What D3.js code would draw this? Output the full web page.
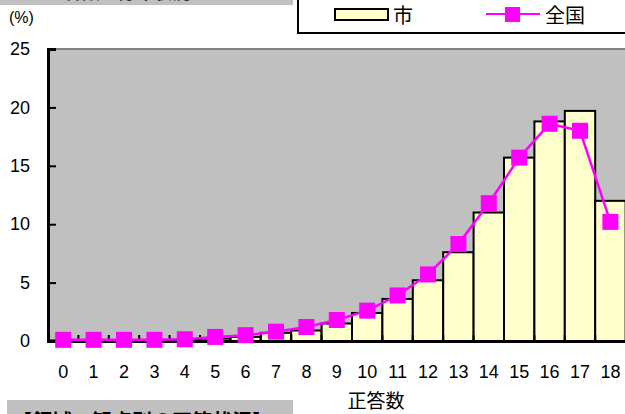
<!DOCTYPE html>
<html>
<head>
<meta charset="utf-8">
<script src="https://cdn.jsdelivr.net/npm/d3@7"></script>
<style>
  body { margin: 0; background: #fff; }
  svg { display: block; font-family: "Liberation Sans", Arial, sans-serif; }
</style>
</head>
<body>
<svg width="625" height="414"></svg>
<script>
// 正答数 categories and values (%)
var categories = d3.range(0, 19).map(String);
var cityValues = [0.05, 0.05, 0.05, 0.05, 0.1, 0.2, 0.35, 0.7, 0.9, 1.5, 2.4, 3.6, 5.2, 7.6, 11.0, 15.7, 18.8, 19.7, 12.0];
var nationValues = [0.1, 0.1, 0.1, 0.1, 0.15, 0.35, 0.5, 0.8, 1.2, 1.8, 2.6, 3.9, 5.7, 8.3, 11.8, 15.7, 18.6, 18.0, 10.2];
var yTicks = [0, 5, 10, 15, 20, 25];

var svg = d3.select("svg"),
  margin = { top: 49, right: 0, bottom: 73, left: 48 },
  g = svg.append("g")
    .attr("transform", "translate(" + margin.left + "," + margin.top + ")");

var x = d3.scaleBand().domain(categories).range([0, 30.4 * 19]).padding(0);
var y = d3.scaleLinear().domain([0, 25]).range([292, 0]);

// header boxes (clipped by the window, as in the source page)
svg.append("rect").attr("x", 0).attr("y", -10).attr("width", 293).attr("height", 15).attr("fill", "#c0c0c0");
svg.append("text").attr("x", 10).attr("y", -1).attr("font-size", 18).attr("font-weight", "bold")
  .attr("fill", "#333").attr("font-family", "Noto Sans CJK JP").text("２　正答数の分布状況");
svg.append("rect").attr("x", 7).attr("y", 400).attr("width", 286).attr("height", 20).attr("fill", "#c0c0c0");
svg.append("text").attr("x", 12).attr("y", 429).attr("font-size", 20).attr("font-weight", "bold")
  .attr("fill", "#000").attr("font-family", "Noto Sans CJK JP").text("【領域・観点別の正答状況】");

// plot area
g.append("rect").attr("x", 0).attr("y", 0).attr("width", 30.4 * 19).attr("height", 292).attr("fill", "#c0c0c0");
g.append("line").attr("x1", 0).attr("x2", 30.4 * 19).attr("y1", 0).attr("y2", 0).attr("stroke", "#808080").attr("stroke-width", 2);

// bars
g.selectAll(".bar")
  .data(cityValues)
  .enter()
  .append("rect")
  .attr("class", "bar")
  .attr("x", function(d, i) { return x(categories[i]); })
  .attr("y", function(d) { return y(d); })
  .attr("width", x.bandwidth())
  .attr("height", function(d) { return y(0) - y(d); })
  .attr("fill", "#ffffcc")
  .attr("stroke", "#000")
  .attr("stroke-width", 2);

// axes
var yAxis = g.append("g")
  .call(d3.axisLeft(y).tickValues(yTicks).tickSize(-8).tickPadding(18));
yAxis.select(".domain").attr("stroke-width", 3);
yAxis.selectAll(".tick line").attr("stroke-width", 2);
yAxis.selectAll("text").attr("font-size", 18).attr("font-family", "Liberation Sans, Arial, sans-serif").attr("fill", "#000");

var xAxis = g.append("g")
  .attr("transform", "translate(0," + y(0) + ")")
  .call(d3.axisBottom(x).tickSize(0).tickPadding(24));
xAxis.select(".domain").attr("stroke-width", 3);
xAxis.selectAll("text").attr("font-size", 18).attr("font-family", "Liberation Sans, Arial, sans-serif").attr("fill", "#000");
g.append("g").selectAll("line")
  .data(categories.slice(1))
  .enter().append("line")
  .attr("x1", function(d) { return x(d); })
  .attr("x2", function(d) { return x(d); })
  .attr("y1", y(0))
  .attr("y2", y(0) - 6)
  .attr("stroke", "#000")
  .attr("stroke-width", 2);

// line series
var line = d3.line()
  .x(function(d, i) { return x(categories[i]) + x.bandwidth() / 2; })
  .y(function(d) { return y(d); });
g.append("path").datum(nationValues)
  .attr("d", line).attr("fill", "none").attr("stroke", "#ff00ff").attr("stroke-width", 2.5);
g.selectAll(".marker")
  .data(nationValues)
  .enter().append("rect")
  .attr("class", "marker")
  .attr("x", function(d, i) { return x(categories[i]) + x.bandwidth() / 2 - 8; })
  .attr("y", function(d) { return y(d) - 8; })
  .attr("width", 16).attr("height", 16)
  .attr("fill", "#ff00ff");

// labels
svg.append("text").attr("x", 9).attr("y", 23).attr("font-size", 16).text("(%)");
svg.append("text").attr("x", 376).attr("y", 408).attr("text-anchor", "middle")
  .attr("font-size", 19).attr("font-family", "Noto Sans CJK JP").text("正答数");

// legend
var lg = svg.append("g");
lg.append("rect").attr("x", 298).attr("y", -5).attr("width", 340).attr("height", 38)
  .attr("fill", "#fff").attr("stroke", "#000").attr("stroke-width", 2);
lg.append("rect").attr("x", 335).attr("y", 9).attr("width", 53).attr("height", 11)
  .attr("fill", "#ffffcc").attr("stroke", "#000").attr("stroke-width", 2);
lg.append("text").attr("x", 393).attr("y", 23).attr("font-size", 20).attr("font-family", "Noto Sans CJK JP").text("市");
lg.append("line").attr("x1", 486).attr("x2", 540).attr("y1", 14).attr("y2", 14)
  .attr("stroke", "#ff00ff").attr("stroke-width", 2);
lg.append("rect").attr("x", 505).attr("y", 7).attr("width", 15).attr("height", 15).attr("fill", "#ff00ff");
lg.append("text").attr("x", 545).attr("y", 23).attr("font-size", 20).attr("font-family", "Noto Sans CJK JP").text("全国");
</script>
</body>
</html>
